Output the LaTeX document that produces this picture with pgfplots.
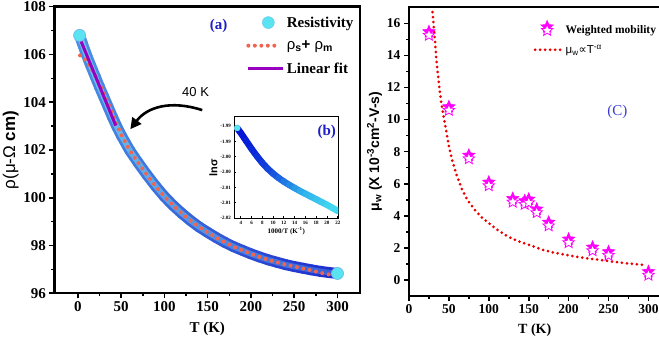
\documentclass[border=0pt]{standalone}
\usepackage{fontspec}
\setmainfont{Liberation Serif}
\setsansfont{Liberation Sans}
\newfontfamily\dejavu{DejaVu Sans}
\usepackage{pgfplots}
\usepackage{pgfplotstable}
\pgfplotsset{compat=1.18}
\usetikzlibrary{arrows.meta}

\definecolor{rescyan}{RGB}{90,228,242}
\definecolor{rescyanedge}{RGB}{110,190,235}
\definecolor{rhored}{RGB}{240,100,80}
\definecolor{fitpurple}{RGB}{150,0,190}
\definecolor{labblue}{RGB}{30,30,200}
\definecolor{cblue}{RGB}{60,60,210}
\definecolor{mag}{RGB}{255,0,255}
\definecolor{fitred}{RGB}{235,0,0}

\pgfdeclareplotmark{fstar}{%
 \pgfpathmoveto{\pgfpointpolar{90}{\pgfplotmarksize}}%
 \pgfpathlineto{\pgfpointpolar{126}{0.45\pgfplotmarksize}}%
 \pgfpathlineto{\pgfpointpolar{162}{\pgfplotmarksize}}%
 \pgfpathlineto{\pgfpointpolar{198}{0.45\pgfplotmarksize}}%
 \pgfpathlineto{\pgfpointpolar{234}{\pgfplotmarksize}}%
 \pgfpathlineto{\pgfpointpolar{270}{0.45\pgfplotmarksize}}%
 \pgfpathlineto{\pgfpointpolar{306}{\pgfplotmarksize}}%
 \pgfpathlineto{\pgfpointpolar{342}{0.45\pgfplotmarksize}}%
 \pgfpathlineto{\pgfpointpolar{18}{\pgfplotmarksize}}%
 \pgfpathlineto{\pgfpointpolar{54}{0.45\pgfplotmarksize}}%
 \pgfpathclose\pgfusepathqfillstroke}

\pgfplotsset{
  colormap={bandA}{rgb255=(75,145,228) rgb255=(30,45,205)},
  colormap={bandB}{rgb255=(110,198,240) rgb255=(55,95,218)},
  colormap={insetA}{rgb255=(0,10,215) rgb255=(20,70,220) rgb255=(45,175,235) rgb255=(70,222,242)},
}

\pgfplotstableread{
T rho
2 106.80
5 106.48
10 105.98
15 105.52
20 105.08
25 104.64
30 104.22
35 103.80
40 103.38
45 102.98
50 102.62
60 101.98
70 101.45
80 100.95
90 100.48
100 100.05
110 99.68
120 99.35
130 99.05
140 98.78
150 98.55
160 98.33
170 98.13
180 97.95
190 97.80
200 97.65
210 97.52
220 97.40
230 97.30
240 97.20
250 97.12
260 97.05
270 96.98
280 96.92
290 96.87
300 96.83
}\bandtab

\pgfplotstableread{
T rho
2.5 105.96
6 105.88
10 105.72
14 105.50
18 105.26
22 104.98
26 104.68
30 104.36
35 103.95
40 103.52
45 103.07
50 102.66
60 101.98
70 101.45
80 100.95
90 100.48
100 100.05
110 99.68
120 99.35
130 99.05
140 98.78
150 98.55
160 98.33
170 98.13
180 97.95
190 97.80
200 97.65
210 97.52
220 97.40
230 97.30
240 97.20
250 97.12
260 97.04
270 96.96
280 96.86
290 96.79
296 96.76
}\redtab

\pgfplotstableread{
x lns
3.33 -1.9906
4 -1.9922
5 -1.9948
6 -1.9974
7 -1.9998
8 -2.0020
9 -2.0039
10 -2.0055
11 -2.0069
12 -2.0081
13 -2.0092
14 -2.0102
15 -2.0112
16 -2.0121
17 -2.0130
18 -2.0139
19 -2.0148
20 -2.0157
21 -2.0167
22 -2.0177
}\insettab

\pgfplotstableread{
T mu
25 15.38
50 10.70
75 7.68
100 6.00
130 4.98
145 4.84
150 4.94
160 4.32
175 3.50
200 2.45
230 1.95
250 1.66
300 0.42
}\mobtab

\pgfplotstableread{
T mu
29.5 16.70
31 15.80
32.5 15.00
34 13.90
36 12.90
38 12.00
40 11.20
43 10.30
45.5 9.60
48 8.90
51 8.10
55 7.30
60 6.50
66 5.70
73 5.00
82 4.40
92 3.85
100 3.55
110 3.15
120 2.82
130 2.55
141 2.35
155 2.10
168 1.87
182 1.70
197 1.56
212 1.43
226 1.33
241 1.24
255 1.14
272 1.04
293 0.94
}\powtab

\begin{document}
\begin{tikzpicture}
\useasboundingbox (0pt,0pt) rectangle (659pt,347pt);

% ---------------- left panel (a)
\begin{axis}[
  at={(54.5pt,53.7pt)}, anchor=south west, scale only axis,
  width=305.5pt, height=286.6pt,
  xmin=-27, xmax=326, ymin=96, ymax=108,
  xtick={0,50,...,300}, ytick={96,98,...,108},
  minor x tick num=1, minor y tick num=1,
  tick pos=left, tick align=outside,
  axis line style={line width=2.4pt},
  major tick length=5pt, minor tick length=3pt,
  tick style={line width=1.6pt, black},
  tick label style={font=\bfseries\fontsize{15}{15}\selectfont},
  /pgf/number format/assume math mode=true,
  xlabel={\bfseries T (K)},
  xlabel style={font=\fontsize{15}{15}\selectfont, yshift=-3pt},
  ylabel={\sffamily ρ(μ-Ω \bfseries cm)},
  ylabel style={font=\fontsize{17}{17}\selectfont, yshift=-2pt},
  legend style={at={(rel axis cs:0.624,0.973)}, anchor=north west,
     draw=none, fill=none, inner sep=0pt, row sep=8pt,
     font=\bfseries\fontsize{15}{15}\selectfont},
  legend cell align=left,
]
\addplot[forget plot, mesh, point meta=x, colormap name=bandA, line width=11pt, line cap=round] table[x=T,y=rho] {\bandtab};
\addplot[forget plot, mesh, point meta=x, colormap name=bandB, line width=5.5pt, line cap=round] table[x=T,y=rho] {\bandtab};
\addplot[only marks, mark=*, mark size=6pt, mark options={fill=rescyan, draw=rescyanedge, line width=0.8pt},
  legend image code/.code={\path[draw=none,fill=none] (0pt,-6pt) rectangle (38pt,6pt); \fill[rescyan, draw=rescyanedge] (23pt,0pt) circle (6pt);}]
  coordinates {(2,106.8) (300,96.83)};
\addlegendentry{Resistivity}
\addplot[rhored, line width=4pt, dash pattern=on 0pt off 6.5pt, line cap=round,
  legend image code/.code={\path[draw=none,fill=none] (0pt,-6pt) rectangle (38pt,6pt); \draw[rhored, line width=4pt, dash pattern=on 0pt off 6.5pt, line cap=round] (3pt,0pt) -- (31pt,0pt);}]
  table[x=T,y=rho] {\redtab};
\addlegendentry{\sffamily\mdseries ρ\textsubscript{\bfseries s}\textbf{+} ρ\textsubscript{\bfseries m}}
\addplot[fitpurple, line width=3pt,
  legend image code/.code={\path[draw=none,fill=none] (0pt,-6pt) rectangle (38pt,6pt); \draw[fitpurple, line width=3pt] (3pt,0pt) -- (38pt,0pt);}]
  coordinates {(2,106.7) (43.8,103.02)};
\addlegendentry{Linear fit}
\draw[line width=2.6pt, -{Triangle[length=11pt,width=11pt]}]
  (axis cs:143.7,103.67) .. controls (axis cs:107,104.1) and (axis cs:80,103.8) .. (axis cs:60.6,102.87);
\node[font=\sffamily\fontsize{13}{13}\selectfont] at (axis cs:136,104.44) {40 K};
\node[font=\bfseries\fontsize{15}{15}\selectfont, text=labblue] at (axis cs:162.6,107.19) {(a)};
\end{axis}

% ---------------- inset (b)
\begin{axis}[
  at={(234.3pt,128.7pt)}, anchor=south west, scale only axis,
  width=104pt, height=101.6pt,
  axis background/.style={fill=white},
  xmin=2.8, xmax=22.1, ymin=-2.0201, ymax=-1.9869,
  xtick={4,6,...,22},
  ytick={-2.02,-2.015,-2.01,-2.005,-2,-1.995,-1.99},
  yticklabels={-2.02,-2.01,-2.01,-2.00,-2.00,-1.99,-1.99},
  tick align=inside, tick pos=left,
  major tick length=2pt,
  tick style={line width=0.8pt, black},
  axis line style={line width=1.5pt},
  tick label style={font=\bfseries\fontsize{5}{5}\selectfont},
  xticklabel style={yshift=1pt},
  /pgf/number format/assume math mode=true,
  xlabel={\bfseries 1000/T (K\textsuperscript{-1})},
  xlabel style={font=\fontsize{7}{7}\selectfont, yshift=4pt},
  ylabel={\sffamily\bfseries lnσ},
  ylabel style={font=\fontsize{11}{11}\selectfont, yshift=-4pt},
]
\addplot[mesh, point meta=x, colormap name=insetA, line width=6.5pt, line cap=round] table[x=x,y=lns] {\insettab};
\addplot[only marks, mark=*, mark size=3pt, mark options={fill=rescyan, draw=rescyan}] coordinates {(3.33,-1.9906)};
\node[font=\bfseries\fontsize{15}{15}\selectfont, text=labblue] at (axis cs:19.96,-1.9918) {(b)};
\end{axis}

% ---------------- right panel (C)
\begin{axis}[
  at={(409pt,51pt)}, anchor=south west, scale only axis,
  width=251.4pt, height=288.7pt,
  xmin=0, xmax=315, ymin=-1, ymax=17,
  xtick={0,50,...,300}, ytick={0,2,...,16},
  minor x tick num=1, minor y tick num=1,
  tick pos=left, tick align=outside,
  axis line style={line width=2.4pt},
  major tick length=5pt, minor tick length=3pt,
  tick style={line width=1.6pt, black},
  tick label style={font=\bfseries\fontsize{13.5}{13.5}\selectfont},
  /pgf/number format/assume math mode=true,
  xlabel={\bfseries T (K)},
  xlabel style={font=\fontsize{14}{14}\selectfont, yshift=-3pt},
  ylabel={\sffamily\bfseries μ\textsubscript{w} (X 10\textsuperscript{-3}cm\textsuperscript{2}-V-s)},
  ylabel style={font=\fontsize{14}{14}\selectfont, yshift=-2pt},
  legend style={at={(rel axis cs:0.493,0.955)}, anchor=north west,
     draw=none, fill=none, inner sep=0pt, row sep=6pt,
     font=\bfseries\fontsize{11.5}{11.5}\selectfont},
  legend cell align=left,
]
\addplot[only marks, mark=fstar, mark size=6.5pt, mark options={fill=mag, draw=mag, line width=0.6pt}, yshift=1.5pt,
  legend image code/.code={\path[draw=none,fill=none] (0pt,-6pt) rectangle (30pt,6pt);
     \path[draw=none] plot[only marks, mark=fstar, mark size=6.5pt, mark options={fill=mag, draw=mag, line width=0.6pt}] coordinates {(14pt,1.5pt)};
     \path[draw=none] plot[only marks, mark=fstar, mark size=6pt, mark options={fill=white, draw=mag, line width=0.8pt}] coordinates {(14pt,-2pt)};}]
  table[x=T,y=mu] {\mobtab};
\addlegendentry{Weighted mobility}
\addplot[only marks, mark=fstar, mark size=6pt, mark options={fill=white, draw=mag, line width=0.8pt}, yshift=-2pt, forget plot]
  table[x=T,y=mu] {\mobtab};
\addplot[fitred, line width=3pt, dash pattern=on 0pt off 5pt, line cap=round,
  legend image code/.code={\path[draw=none,fill=none] (0pt,-6pt) rectangle (30pt,6pt); \draw[fitred, line width=3pt, dash pattern=on 0pt off 5pt, line cap=round] (2pt,0pt) -- (29pt,0pt);}]
  table[x=T,y=mu] {\powtab};
\addlegendentry{\sffamily\mdseries\fontsize{11.5}{11.5}\selectfont μ\textsubscript{w}{\dejavu ∝}T\textsuperscript{-α}}
\node[font=\fontsize{15}{15}\selectfont, text=cblue] at (axis cs:261,10.5) {(C)};
\end{axis}
\end{tikzpicture}
\end{document}
